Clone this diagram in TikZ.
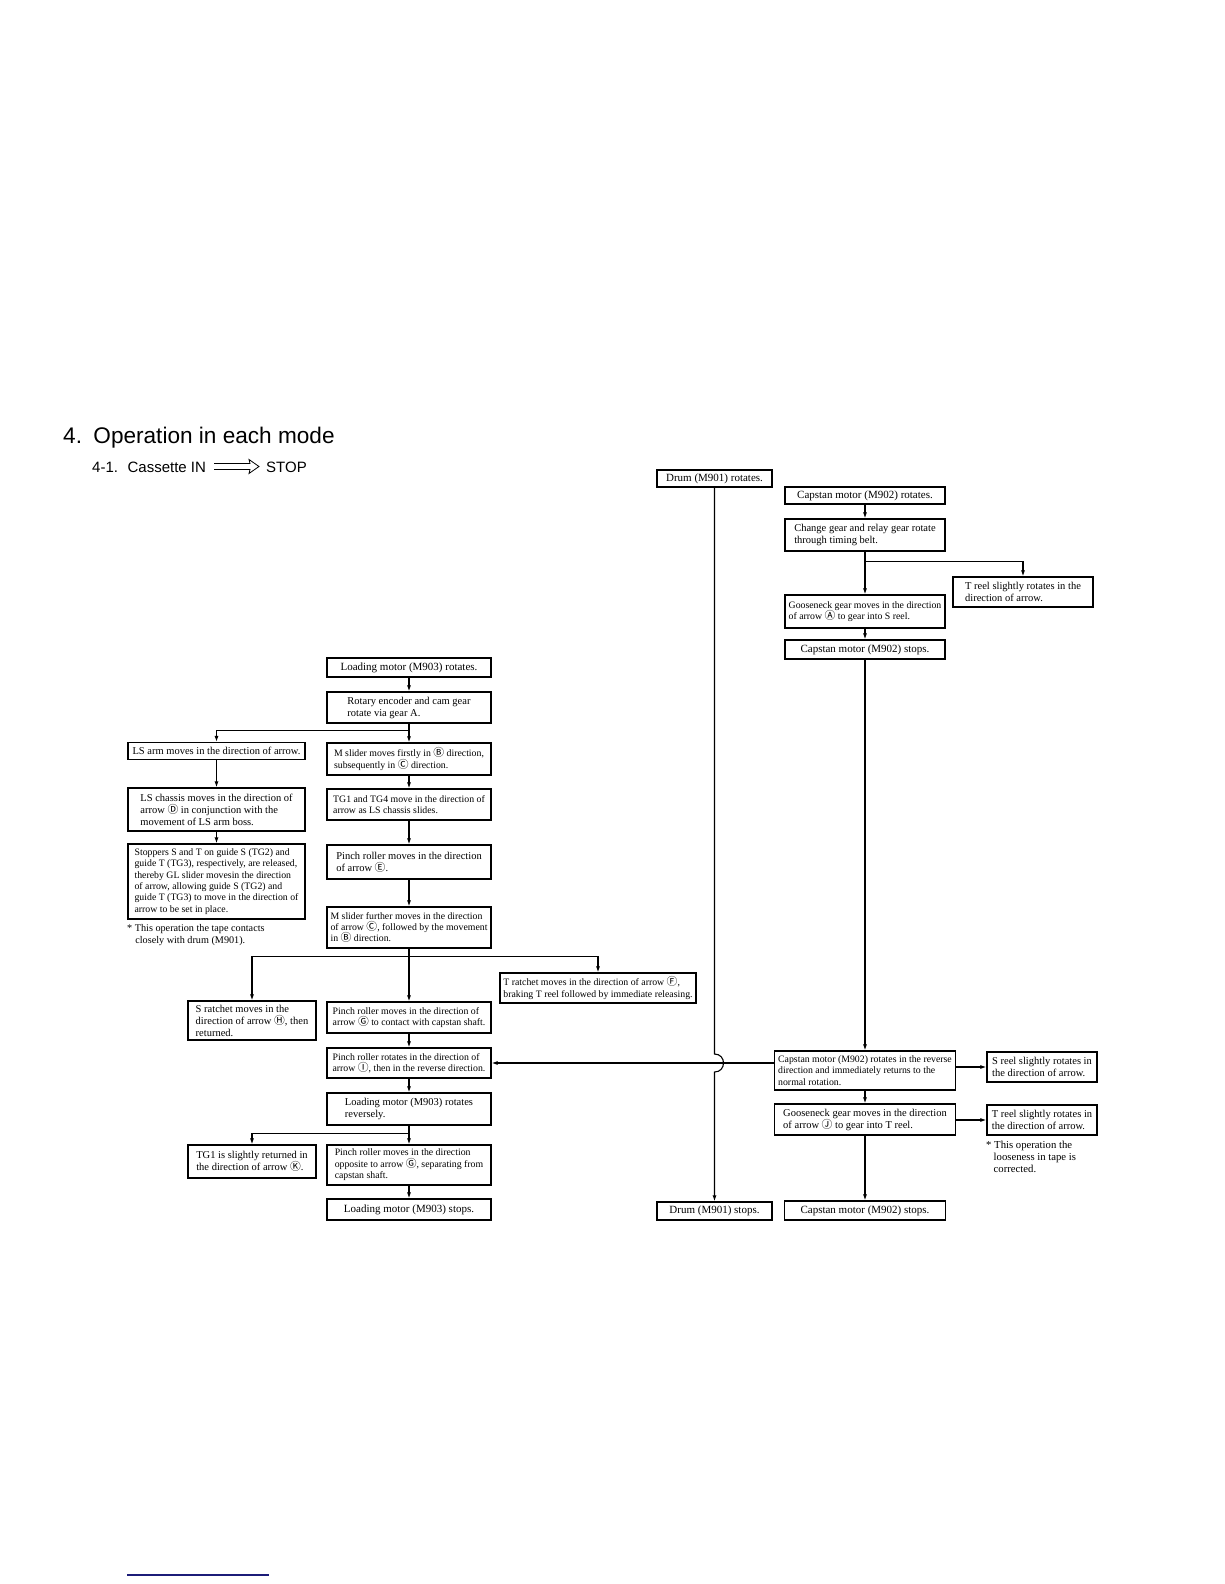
\documentclass[tikz,border=0pt]{standalone}
\usepackage{fontspec}
\setmainfont{Liberation Serif}
\newfontfamily\headfont{Liberation Sans}
\newfontfamily\symfont{Noto Sans CJK JP}
\usepackage{tikz}
\usetikzlibrary{calc, positioning, arrows.meta}

\definecolor{rulenavy}{RGB}{28,28,120}
\newcommand{\cl}[1]{{\symfont\fontsize{10.8}{10.8}\selectfont #1}}

\tikzset{
  box/.style={draw, line width=1.2pt, align=left, inner sep=2pt},
  fbig/.style={font=\fontsize{11}{12}\selectfont},
  fmid/.style={font=\fontsize{10.5}{12}\selectfont},
  fsml/.style={font=\fontsize{9.8}{11.4}\selectfont},
  link/.style={line width=1.1pt, ->},
}

\begin{document}
\begin{tikzpicture}[>={Latex[length=6pt,width=4pt]}, x=1pt, y=-1pt]
    \useasboundingbox (0,0) rectangle (1224,1584);

    % 1. Tiêu đề
    \node[anchor=base west, inner sep=0, font=\headfont\fontsize{22.6}{26}\selectfont] (title) at (63,443) {4.\hspace{3pt} Operation in each mode};
    \node[anchor=base west, inner sep=0, font=\headfont\fontsize{15}{18}\selectfont] (sub) at (92,472) {4-1.\hspace{4pt} Cassette IN};
    \node[anchor=base west, inner sep=0, font=\headfont\fontsize{15}{18}\selectfont] (stop) at (266,472) {STOP};
    \draw[line width=0.8pt, line join=miter] (214,463.5) -- (250,463.5) -- (249,459.5) -- (259,466.5) -- (249,473.5) -- (250,469.5) -- (214,469.5);

    % 2. Cột trống và động cơ capstan
    \node[box, fbig, minimum width=115pt, minimum height=17pt] (drum) at (714.5,478.5) {Drum (M901) rotates.};
    \node[box, fbig, minimum width=160pt, minimum height=17pt] (caprot) at (865,495.5) {Capstan motor (M902) rotates.};
    \node[box, fmid, minimum width=160pt, minimum height=32pt] (change) at (865,535) {Change gear and relay gear rotate\\through timing belt.};
    \node[box, fmid, minimum width=140pt, minimum height=30pt] (treelA) at (1023,592) {T reel slightly rotates in the\\direction of arrow.};
    \node[box, fsml, minimum width=160pt, minimum height=33pt] (gooseS) at (865,611.5) {Gooseneck gear moves in the direction\\of arrow \cl{Ⓐ} to gear into S reel.};
    \node[box, fbig, minimum width=160pt, minimum height=19pt] (capstop) at (865,649.5) {Capstan motor (M902) stops.};
    \node[box, fsml, minimum width=181pt, minimum height=39pt] (caprev) at (865,1070.5) {Capstan motor (M902) rotates in the reverse\\direction and immediately returns to the\\normal rotation.};
    \node[box, fmid, minimum width=110pt, minimum height=30pt] (sreel) at (1042,1067) {S reel slightly rotates in\\the direction of arrow.};
    \node[box, fmid, minimum width=181pt, minimum height=31pt] (gooseJ) at (865,1119.5) {Gooseneck gear moves in the direction\\of arrow \cl{Ⓙ} to gear into T reel.};
    \node[box, fmid, minimum width=110pt, minimum height=30pt] (treelB) at (1042,1120) {T reel slightly rotates in\\the direction of arrow.};
    \node[anchor=north west, align=left, inner sep=0, font=\fontsize{10.7}{11.7}\selectfont] (noteB) at (986,1141) {* This operation the\\\hspace{0.7em}looseness in tape is\\\hspace{0.7em}corrected.};
    \node[box, fbig, minimum width=115pt, minimum height=18pt] (drumstop) at (714.5,1211) {Drum (M901) stops.};
    \node[box, fbig, minimum width=161pt, minimum height=19pt] (capstop2) at (865,1210.5) {Capstan motor (M902) stops.};

    % 3. Cột động cơ nạp băng
    \node[box, fbig, minimum width=164pt, minimum height=19pt] (loadrot) at (409,667.5) {Loading motor (M903) rotates.};
    \node[box, fmid, minimum width=164pt, minimum height=31pt] (rotary) at (409,707.5) {Rotary encoder and cam gear\\rotate via gear A.};
    \node[box, fsml, minimum width=164pt, minimum height=32pt] (mslider1) at (409,759) {M slider moves firstly in \cl{Ⓑ} direction,\\subsequently in \cl{Ⓒ} direction.};
    \node[box, fsml, minimum width=164pt, minimum height=31pt] (tg14) at (409,804.5) {TG1 and TG4 move in the direction of\\arrow as LS chassis slides.};
    \node[box, fmid, minimum width=164pt, minimum height=34pt] (pinchE) at (409,862) {Pinch roller moves in the direction\\of arrow \cl{Ⓔ}.};
    \node[box, fsml, minimum width=164pt, minimum height=41pt] (mslider2) at (409,927.5) {M slider further moves in the direction\\of arrow \cl{Ⓒ}, followed by the movement\\in \cl{Ⓑ} direction.};
    \node[box, fsml, minimum width=164pt, minimum height=31pt] (pinchG) at (409,1017.5) {Pinch roller moves in the direction of\\arrow \cl{Ⓖ} to contact with capstan shaft.};
    \node[box, fsml, minimum width=164pt, minimum height=30pt] (pinchI) at (409,1063) {Pinch roller rotates in the direction of\\arrow \cl{Ⓘ}, then in the reverse direction.};
    \node[box, fmid, minimum width=164pt, minimum height=32pt] (loadrev) at (409,1109) {Loading motor (M903) rotates\\reversely.};
    \node[box, fsml, minimum width=164pt, minimum height=40pt] (pinchopp) at (409,1165) {Pinch roller moves in the direction\\opposite to arrow \cl{Ⓖ}, separating from\\capstan shaft.};
    \node[box, fbig, minimum width=164pt, minimum height=21pt] (loadstop) at (409,1209.5) {Loading motor (M903) stops.};
    \node[box, fsml, minimum width=196pt, minimum height=30pt] (tratchet) at (598,988) {T ratchet moves in the direction of arrow \cl{Ⓕ},\\braking T reel followed by immediate releasing.};

    % 4. Cột tay LS
    \node[box, fmid, minimum width=177pt, minimum height=17pt] (lsarm) at (216.5,751) {LS arm moves in the direction of arrow.};
    \node[box, fmid, minimum width=177pt, minimum height=43pt] (lschassis) at (216.5,809.5) {LS chassis moves in the direction of\\arrow \cl{Ⓓ} in conjunction with the\\movement of LS arm boss.};
    \node[box, fsml, minimum width=177pt, minimum height=75pt] (stoppers) at (216.5,881.5) {Stoppers S and T on guide S (TG2) and\\guide T (TG3), respectively, are released,\\thereby GL slider movesin the direction\\of arrow, allowing guide S (TG2) and\\guide T (TG3) to move in the direction of\\arrow to be set in place.};
    \node[anchor=north west, align=left, inner sep=0, font=\fontsize{10.2}{12.6}\selectfont] (noteA) at (127,924) {* This operation the tape contacts\\\hspace{0.8em}closely with drum (M901).};
    \node[box, fmid, minimum width=128pt, minimum height=39pt] (sratchet) at (252,1020.5) {S ratchet moves in the\\direction of arrow \cl{Ⓗ}, then\\returned.};
    \node[box, fmid, minimum width=128pt, minimum height=33pt] (tg1ret) at (252,1161.5) {TG1 is slightly returned in\\the direction of arrow \cl{Ⓚ}.};

    % 5. Các mũi tên thẳng đứng
    \foreach \a/\b in {caprot/change, change/gooseS, gooseS/capstop, capstop/caprev, caprev/gooseJ, gooseJ/capstop2,
                       loadrot/rotary, rotary/mslider1, mslider1/tg14, tg14/pinchE, pinchE/mslider2, mslider2/pinchG,
                       pinchG/pinchI, pinchI/loadrev, loadrev/pinchopp, pinchopp/loadstop, lsarm/lschassis, lschassis/stoppers} {
        \draw[link] (\a.south) -- (\b.north);
    }

    % 6. Các nhánh rẽ
    \draw[link] ($(change.south)+(0,10)$) -| (treelA.north);
    \draw[link] ($(rotary.south)+(0,7)$) -| (lsarm.north);
    \draw[link] ($(mslider2.south)+(0,8)$) -| (sratchet.north);
    \draw[link] ($(mslider2.south)+(0,8)$) -| (tratchet.north);
    \draw[link] ($(loadrev.south)+(0,8)$) -| (tg1ret.north);
    \draw[link] (caprev.east |- sreel.west) -- (sreel.west);
    \draw[link] (gooseJ.east |- treelB.west) -- (treelB.west);
    \draw[link] (caprev.west |- pinchI.east) -- (pinchI.east);

    % 7. Đường trống với chỗ nhảy qua
    \coordinate (jtop) at ($(drum.south |- pinchI.east)+(0,-9)$);
    \coordinate (jbot) at ($(drum.south |- pinchI.east)+(0,9)$);
    \draw[link] (drum.south) -- (jtop) .. controls +(12,0) and +(12,0) .. (jbot) -- (drumstop.north);

    % 8. Vạch chân trang
    \draw[rulenavy, line width=1.2pt] (127,1575) -- (269,1575);
\end{tikzpicture}
\end{document}
